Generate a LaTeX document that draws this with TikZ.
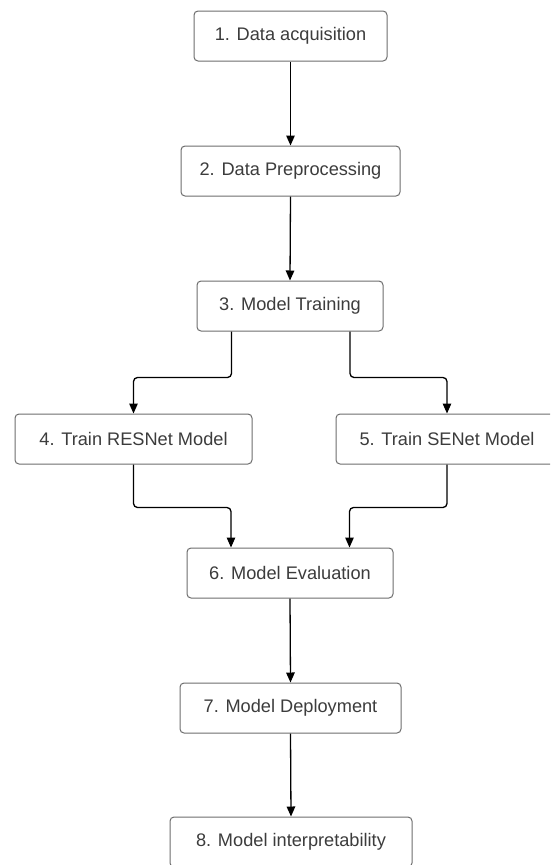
\documentclass[tikz,border=0pt]{standalone}
\usepackage{fontspec}
\setmainfont{Liberation Sans}
\usetikzlibrary{arrows.meta}
\definecolor{txt}{HTML}{3C3C3C}
\definecolor{bord}{HTML}{6E6E6E}
\tikzset{
  flowbox/.style={draw=bord, line width=1pt, rounded corners=4pt, rectangle,
    minimum height=50pt, inner sep=0pt, text=txt,
    font=\fontsize{18.2}{22}\selectfont},
  arr/.style={draw=black, line width=1.3pt, rounded corners=4pt,
    -{Triangle[length=10pt,width=8.5pt]}}
}
\begin{document}
\begin{tikzpicture}[x=1pt,y=-1pt]
\useasboundingbox (0,0) rectangle (550,865);
\clip (0,0) rectangle (550,865);
\fill[white] (0,0) rectangle (550,865);
\node[flowbox, minimum width=193pt] (b1) at (290.5,36) {1. Data acquisition};
\node[flowbox, minimum width=219pt] (b2) at (290.5,171) {2. Data Preprocessing};
\node[flowbox, minimum width=186pt] (b3) at (290,306) {3. Model Training};
\node[flowbox, minimum width=237pt] (b4) at (133.5,439) {4. Train RESNet Model};
\node[flowbox, minimum width=222pt] (b5) at (447,439) {5. Train SENet Model};
\node[flowbox, minimum width=206pt] (b6) at (290,573) {6. Model Evaluation};
\node[flowbox, minimum width=221pt] (b7) at (290.5,708) {7. Model Deployment};
\node[flowbox, minimum width=242pt] (b8) at (291,842) {8. Model interpretability};
\draw[arr] (b1.south) -- (b2.north);
\draw[arr] (b2.south) -- (b3.north);
\draw[arr] ([xshift=-58.5pt]b3.south) -- ++(0pt,-46pt) -| (b4.north);
\draw[arr] ([xshift=60pt]b3.south) -- ++(0pt,-46pt) -| (b5.north);
\draw[arr] (b4.south) -- ++(0pt,-43pt) -| ([xshift=-59pt]b6.north);
\draw[arr] (b5.south) -- ++(0pt,-43pt) -| ([xshift=59.5pt]b6.north);
\draw[arr] (b6.south) -- (b7.north);
\draw[arr] (b7.south) -- (b8.north);
\end{tikzpicture}
\end{document}
